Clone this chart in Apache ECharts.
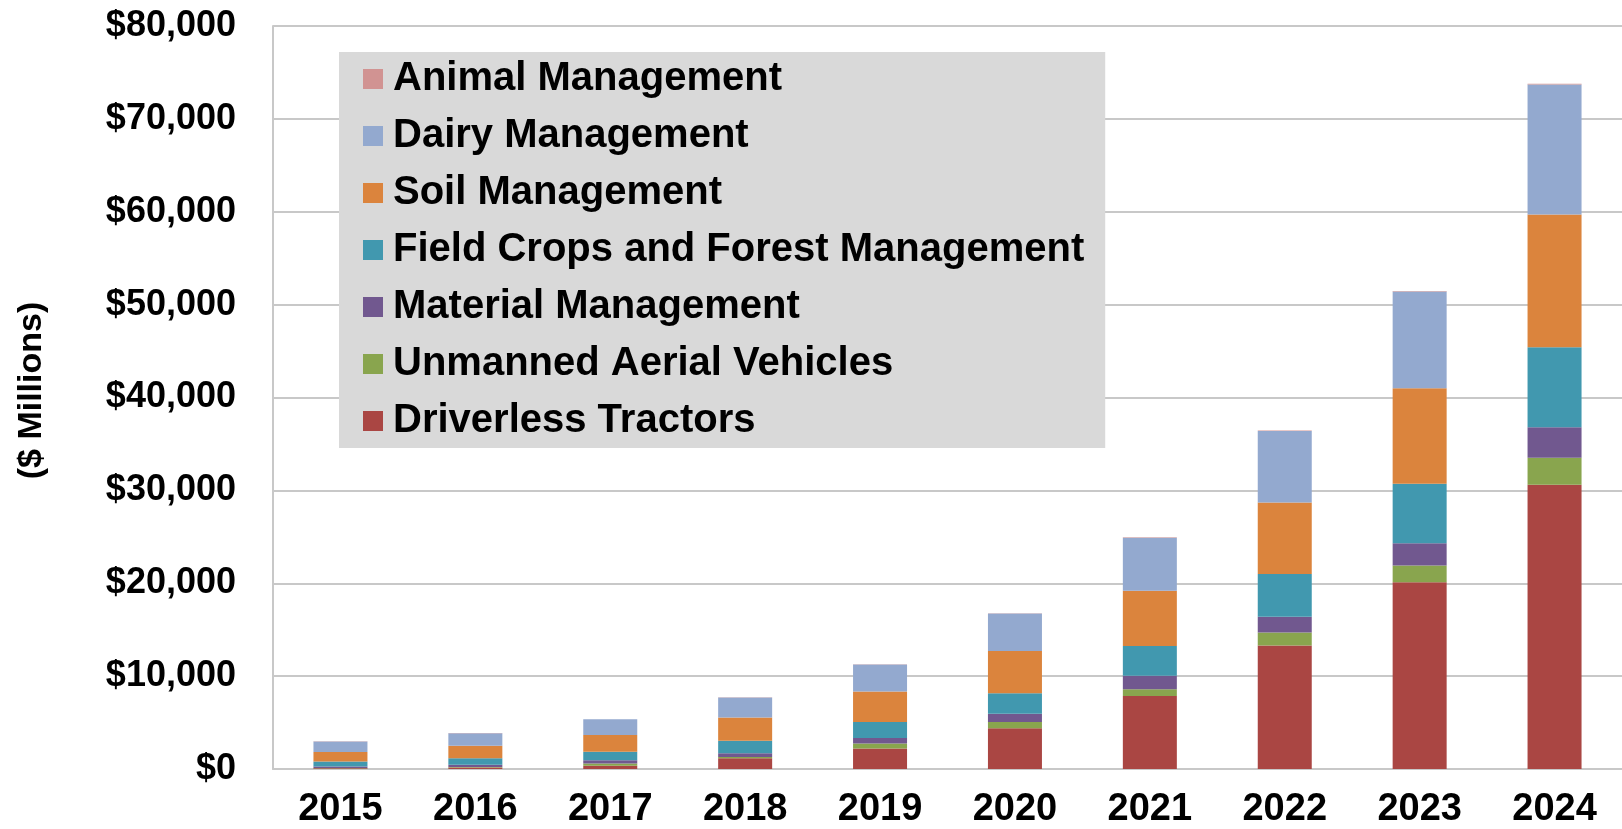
<!DOCTYPE html>
<html>
<head>
<meta charset="utf-8">
<title>Agricultural Robots Revenue by Application</title>
<script src="https://cdn.jsdelivr.net/npm/echarts@6/dist/echarts.min.js"></script>
<style>
  html, body { margin: 0; padding: 0; background: #ffffff; }
  #chart { width: 1622px; height: 829px; }
</style>
</head>
<body>
<div id="chart"></div>
<script>
// Revenue by application, $ millions
const years = ['2015', '2016', '2017', '2018', '2019', '2020', '2021', '2022', '2023', '2024'];

const driverlessTractors   = [80, 150, 350, 1150, 2200, 4400, 7850, 13300, 20100, 30600];
const unmannedAerial       = [40, 60, 250, 150, 550, 650, 750, 1400, 1800, 2900];
const materialManagement   = [150, 250, 350, 400, 600, 900, 1450, 1700, 2400, 3300];
const fieldCropsForest     = [550, 700, 900, 1350, 1700, 2200, 3200, 4600, 6400, 8600];
const soilManagement       = [1000, 1330, 1800, 2500, 3300, 4550, 5950, 7700, 10300, 14300];
const dairyManagement      = [1150, 1370, 1700, 2150, 2900, 4050, 5700, 7700, 10400, 14000];
const animalManagement     = [10, 10, 15, 20, 25, 30, 40, 50, 60, 80];

const yTicks = [0, 10000, 20000, 30000, 40000, 50000, 60000, 70000, 80000];

const seriesDefs = [
  { name: 'Driverless Tractors', data: driverlessTractors, color: '#aa4643' },
  { name: 'Unmanned Aerial Vehicles', data: unmannedAerial, color: '#89a54e' },
  { name: 'Material Management', data: materialManagement, color: '#71588f' },
  { name: 'Field Crops and Forest Management', data: fieldCropsForest, color: '#4198af' },
  { name: 'Soil Management', data: soilManagement, color: '#db843d' },
  { name: 'Dairy Management', data: dairyManagement, color: '#93a9cf' },
  { name: 'Animal Management', data: animalManagement, color: '#d19392' }
];

const FONT = '"Liberation Sans", Arial, sans-serif';

const chart = echarts.init(document.getElementById('chart'), null, { renderer: 'canvas' });

chart.setOption({
  animation: false,
  backgroundColor: '#ffffff',
  grid: { left: 273, top: 26, width: 1350, height: 745, containLabel: false },
  legend: {
    orient: 'vertical',
    left: 339,
    top: 52,
    backgroundColor: '#d9d9d9',
    padding: [7, 21, 7, 24],
    itemWidth: 20,
    itemHeight: 20,
    itemGap: 17,
    icon: 'rect',
    data: seriesDefs.map(s => s.name).reverse(),
    textStyle: {
      fontFamily: FONT,
      fontWeight: 'bold',
      fontSize: 40,
      lineHeight: 40,
      color: '#000000',
      padding: [0, 0, 0, 5]
    }
  },
  xAxis: {
    type: 'category',
    data: years,
    axisLine: { lineStyle: { color: '#c8c8c8', width: 2 } },
    axisTick: { show: false },
    axisLabel: {
      fontFamily: FONT,
      fontWeight: 'bold',
      fontSize: 38,
      color: '#000000',
      margin: 22
    }
  },
  yAxis: {
    type: 'value',
    min: yTicks[0],
    max: yTicks[yTicks.length - 1],
    interval: yTicks[1] - yTicks[0],
    name: '($ Millions)',
    nameLocation: 'middle',
    nameRotate: 90,
    nameGap: 224,
    nameTextStyle: {
      fontFamily: FONT,
      fontWeight: 'bold',
      fontSize: 34,
      color: '#000000',
      padding: [0, 0, 0, 14]
    },
    axisLine: { show: true, lineStyle: { color: '#c8c8c8', width: 2 } },
    axisTick: { show: false },
    splitLine: { lineStyle: { color: '#c8c8c8', width: 2 } },
    axisLabel: {
      fontFamily: FONT,
      fontWeight: 'bold',
      fontSize: 36,
      color: '#000000',
      margin: 37,
      formatter: v => '$' + v.toLocaleString('en-US')
    }
  },
  series: seriesDefs.map(s => ({
    name: s.name,
    type: 'bar',
    stack: 'total',
    barWidth: 54,
    data: s.data,
    itemStyle: { color: s.color },
    emphasis: { disabled: true }
  }))
});
</script>
</body>
</html>
